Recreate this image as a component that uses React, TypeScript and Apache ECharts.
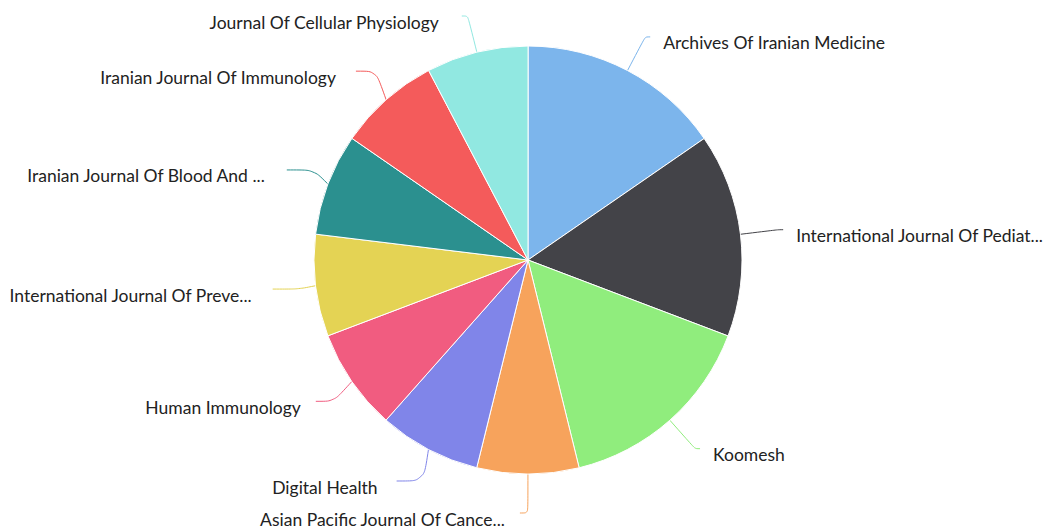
import React, { useEffect, useRef } from "react";
import * as echarts from "echarts";

const categories = [
  "Archives Of Iranian Medicine",
  "International Journal Of Pediatrics",
  "Koomesh",
  "Asian Pacific Journal Of Cancer Prevention",
  "Digital Health",
  "Human Immunology",
  "International Journal Of Preventive Medicine",
  "Iranian Journal Of Blood And Cancer",
  "Iranian Journal Of Immunology",
  "Journal Of Cellular Physiology",
];
const values = [2, 2, 2, 1, 1, 1, 1, 1, 1, 1];
const colors = [
  "#7cb5ec", "#434348", "#90ed7d", "#f7a35c", "#8085e9",
  "#f15c80", "#e4d354", "#2b908f", "#f45b5b", "#91e8e1",
];

// per-slice label line tweaks (second segment length, gap to text)
const lineLen2 = [5, 5, 5, 8, 27, 18, 26, 27, 20, 6];
const labelGap = [13, 13, 13, 15, 19, 15, 21, 22, 20, 23];

export default function App() {
  const ref = useRef<HTMLDivElement>(null);
  useEffect(() => {
    if (!ref.current) return;
    const chart = echarts.init(ref.current, null, { renderer: "svg" });
    chart.setOption({
      animation: false,
      color: colors,
      series: [
        {
          type: "pie",
          center: [528, 260],
          radius: 214,
          startAngle: 89.98,
          data: categories.map((c, i) => ({
            name: c,
            value: values[i],
            label: { distanceToLabelLine: labelGap[i] },
            labelLine: { length2: lineLen2[i] },
          })),
          itemStyle: { borderColor: "#ffffff", borderWidth: 1 },
          label: {
            show: true,
            color: "#222222",
            fontFamily: "Lato",
            fontSize: 17.5,
            width: 250,
            overflow: "truncate",
            ellipsis: "...",
            distanceToLabelLine: 12,
            lineHeight: 12,
            formatter: "\n{b}",
          },
          labelLine: { show: true, length: 38, length2: 5, smooth: 0.3, lineStyle: { width: 1 } },
        },
      ],
    });
    return () => chart.dispose();
  }, []);
  return (
    <div
      ref={ref}
      style={{ position: "fixed", left: 0, top: 0, width: 1043, height: 529, background: "#fff" }}
    />
  );
}
